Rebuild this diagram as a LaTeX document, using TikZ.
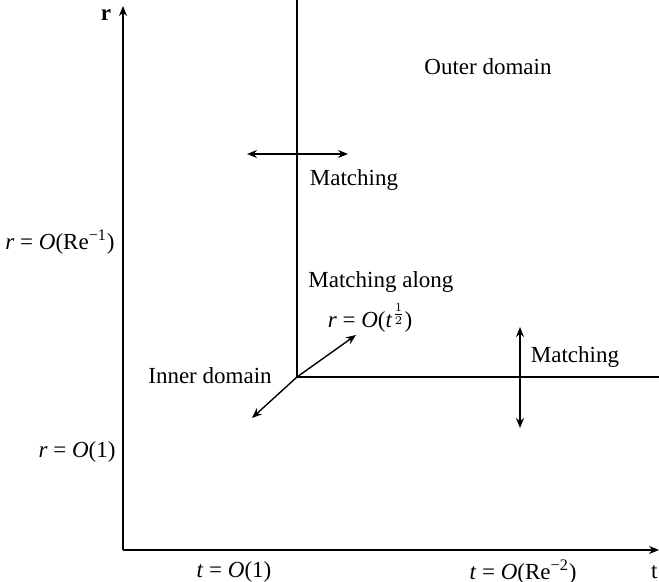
\documentclass[tikz,border=0pt]{standalone}
\usepackage{fontspec}
\setmainfont{Liberation Serif}
\usetikzlibrary{arrows.meta}
\begin{document}
\begin{tikzpicture}[x=0.5pt,y=-0.5pt,
  ln/.style={line width=0.7pt},
  tip/.style={-{Stealth[length=5pt,width=4pt]}},
  dtip/.style={{Stealth[length=5pt,width=4pt]}-{Stealth[length=5pt,width=4pt]}},
  lbl/.style={font=\fontsize{11.5}{13}\selectfont, inner sep=0pt}]
\useasboundingbox (0,0) rectangle (659,582);
% axes
\coordinate (O) at (123,550);
\coordinate (rtop) at (123,6);
\coordinate (tend) at (659,550);
\draw[ln,tip] (O) -- (rtop);
\draw[ln,tip] (O) -- (tend);
\node[lbl,font=\fontsize{11.5}{13}\selectfont\bfseries] (rlab) at (106,15) {r};
\node[lbl,anchor=east] (tlab) at (658,572) {t};
% domain boundaries
\coordinate (C) at (297,377);
\coordinate (vtop) at (297,0);
\coordinate (hend) at (659,377);
\draw[ln] (vtop) -- (C) -- (hend);
% matching arrows
\coordinate (ha) at (247,154);
\coordinate (hb) at (348,154);
\draw[ln,dtip] (ha) -- (hb);
\coordinate (va) at (520,327);
\coordinate (vb) at (520,428);
\draw[ln,dtip] (va) -- (vb);
\coordinate (da) at (252,418);
\coordinate (db) at (356,335);
\draw[ln,dtip] (da) -- (C) -- (db);
% labels
\node[lbl] (outer) at (488,67) {Outer domain};
\node[lbl] (m1) at (354,180) {Matching};
\node[lbl] (m2) at (575,357) {Matching};
\node[lbl,anchor=west] (ma) at (308,282) {Matching along};
\node[lbl] (mb) at (370,318) {\textit{r} = \textit{O}(\textit{t}\raisebox{0.9ex}{$\scriptstyle\frac{1}{2}$})};
\node[lbl] (inner) at (210,376) {Inner domain};
\node[lbl] (rre) at (60,242) {\textit{r} = \textit{O}(Re\textsuperscript{−1})};
\node[lbl] (r1) at (77,452) {\textit{r} = \textit{O}(1)};
\node[lbl] (t1) at (234,572) {\textit{t} = \textit{O}(1)};
\node[lbl] (tre) at (523,572) {\textit{t} = \textit{O}(Re\textsuperscript{−2})};
\end{tikzpicture}
\end{document}
